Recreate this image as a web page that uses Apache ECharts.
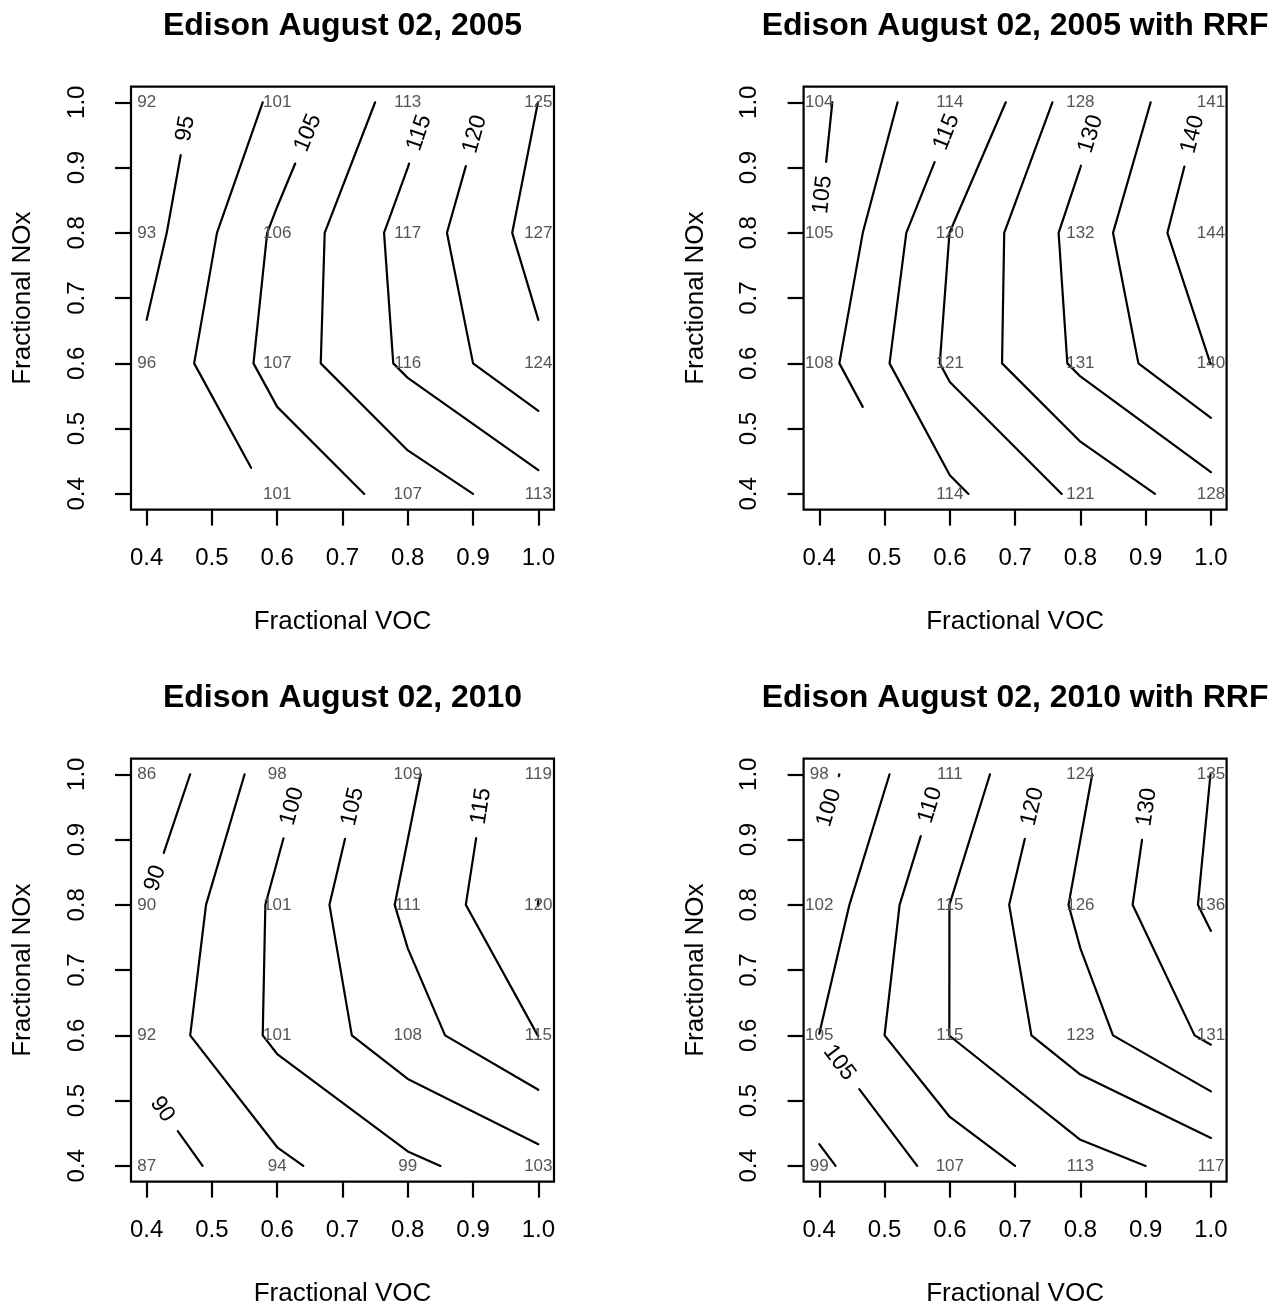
<!DOCTYPE html>
<html>
<head>
<meta charset="utf-8">
<title>Edison August 02 ozone isopleths</title>
<script src="https://cdn.jsdelivr.net/npm/echarts@6/dist/echarts.min.js"></script>
<style>
  html, body { margin: 0; padding: 0; background: #fff; }
  #chart { width: 1285px; height: 1308px; }
</style>
</head>
<body>
<div id="chart"></div>
<script>
// grid nodes: fractional VOC across, fractional NOx up
const vocNodes = [0.4, 0.6, 0.8, 1.0];
const noxNodes = [0.4, 0.6, 0.8, 1.0];

// axis ticks
const tickValues = [0.4, 0.5, 0.6, 0.7, 0.8, 0.9, 1.0];
const tickLabels = ['0.4', '0.5', '0.6', '0.7', '0.8', '0.9', '1.0'];

// ozone at each node, rows go from NOx 0.4 (bottom) to NOx 1.0 (top)
const ozone2005 = [
  [null, 101, 107, 113],
  [96, 107, 116, 124],
  [93, 106, 117, 127],
  [92, 101, 113, 125]
];
const ozone2005RRF = [
  [null, 114, 121, 128],
  [108, 121, 131, 140],
  [105, 120, 132, 144],
  [104, 114, 128, 141]
];
const ozone2010 = [
  [87, 94, 99, 103],
  [92, 101, 108, 115],
  [90, 101, 111, 120],
  [86, 98, 109, 119]
];
const ozone2010RRF = [
  [99, 107, 113, 117],
  [105, 115, 123, 131],
  [102, 115, 126, 136],
  [98, 111, 124, 135]
];

// contour pieces that carry an inline label (one entry per labelled piece)
const labelled2005 = [95, 105, 115, 120];
const labelled2005RRF = [105, 115, 130, 140];
const labelled2010 = [90, 90, 100, 105, 115];
const labelled2010RRF = [100, 105, 110, 120, 130];

const titles = [
  'Edison August 02, 2005',
  'Edison August 02, 2005 with RRF',
  'Edison August 02, 2010',
  'Edison August 02, 2010 with RRF'
];

const contourStep = 5;

const FONT = '"Liberation Sans", Arial, Helvetica, sans-serif';
const plotLeft = [131, 803.6];
const plotTop = [86.6, 758.6];
const plotSize = 423;
const axisMin = 0.376, axisMax = 1.024;
const pxPerUnit = plotSize / (axisMax - axisMin);
const labelPad = 14;
const labelFont = '23px ' + FONT;
const lineW = 2.2;

const measureCtx = document.createElement('canvas').getContext('2d');
function textWidth(str, font) {
  measureCtx.font = font;
  return measureCtx.measureText(str).width;
}

function polyLength(pts) {
  let s = 0;
  for (let k = 1; k < pts.length; k++) s += Math.hypot(pts[k][0] - pts[k - 1][0], pts[k][1] - pts[k - 1][1]);
  return s;
}

// contour lines the way R's contour() builds them: linear interpolation on cell edges,
// triangles where one corner is missing, levels hitting a node nudged by a tiny atom
function buildContours(z, labelled) {
  const vals = z.flat().filter(v => v != null);
  const zmin = Math.min(...vals), zmax = Math.max(...vals);
  const atom = 1e-3 * (zmax - zmin);
  const levels = [];
  for (let l = Math.ceil(zmin / contourStep) * contourStep; l <= zmax; l += contourStep) levels.push(l);

  const pieces = [];
  levels.forEach(lev => {
    const val = c => {
      const v = z[c[1]][c[0]];
      if (v == null) return null;
      return v === lev ? v + atom : v;
    };
    const cross = (a, b) => {
      let p = a, q = b;
      if (b[0] < a[0] || (b[0] === a[0] && b[1] < a[1])) { p = b; q = a; }
      const vp = val(p), vq = val(q);
      if ((vp - lev) * (vq - lev) >= 0) return null;
      const f = (lev - vp) / (vq - vp);
      return [
        vocNodes[p[0]] + f * (vocNodes[q[0]] - vocNodes[p[0]]),
        noxNodes[p[1]] + f * (noxNodes[q[1]] - noxNodes[p[1]])
      ];
    };

    const segs = [];
    for (let i = 0; i < vocNodes.length - 1; i++) {
      for (let j = 0; j < noxNodes.length - 1; j++) {
        const ll = [i, j], hl = [i + 1, j], lh = [i, j + 1], hh = [i + 1, j + 1];
        const ok = [ll, hl, lh, hh].filter(c => val(c) != null);
        let edges;
        if (ok.length === 4) edges = [[ll, hl], [ll, lh], [hl, hh], [lh, hh]];
        else if (ok.length === 3) edges = [[ok[0], ok[1]], [ok[0], ok[2]], [ok[1], ok[2]]];
        else continue;
        const pts = edges.map(e => cross(e[0], e[1])).filter(p => p);
        for (let k = 0; k + 1 < pts.length; k += 2) segs.push([pts[k], pts[k + 1]]);
      }
    }

    // join cell segments into polylines
    const key = p => p[0].toFixed(9) + ',' + p[1].toFixed(9);
    const used = segs.map(() => false);
    for (let s = 0; s < segs.length; s++) {
      if (used[s]) continue;
      used[s] = true;
      const line = [segs[s][0], segs[s][1]];
      let grown = true;
      while (grown) {
        grown = false;
        for (let t = 0; t < segs.length; t++) {
          if (used[t]) continue;
          const a = segs[t][0], b = segs[t][1];
          const head = key(line[0]), tail = key(line[line.length - 1]);
          if (key(a) === tail) line.push(b);
          else if (key(b) === tail) line.push(a);
          else if (key(a) === head) line.unshift(b);
          else if (key(b) === head) line.unshift(a);
          else continue;
          used[t] = true;
          grown = true;
        }
      }
      pieces.push({ level: lev, pts: line, labelled: false });
    }
  });

  // pick the labelled pieces (long enough to hold the label); the label sits at the start
  labelled.forEach(lev => {
    const need = (textWidth(String(lev), labelFont) + 2 * labelPad) / pxPerUnit;
    const cand = pieces.filter(p => p.level === lev && !p.labelled && polyLength(p.pts) > need)
      .sort((a, b) => a.pts.length - b.pts.length);
    if (!cand.length) return;
    const p = cand[0];
    p.labelled = true;
    const first = p.pts[0], last = p.pts[p.pts.length - 1];
    const fromLast = p.pts.length > 2 ? last[1] > first[1] : last[0] < first[0];
    if (fromLast) p.pts.reverse();
  });
  return pieces;
}

function pointAlong(pts, d) {
  let acc = 0;
  for (let k = 1; k < pts.length; k++) {
    const dx = pts[k][0] - pts[k - 1][0], dy = pts[k][1] - pts[k - 1][1];
    const len = Math.hypot(dx, dy);
    if (acc + len >= d && len > 0) {
      const t = (d - acc) / len;
      return { pt: [pts[k - 1][0] + t * dx, pts[k - 1][1] + t * dy], k: k, dir: [dx, dy] };
    }
    acc += len;
  }
  return null;
}

function contourRenderer(pieces) {
  return function (params, api) {
    const piece = pieces[api.value(2)];
    let pts = piece.pts.map(p => api.coord(p));
    const children = [];
    if (piece.labelled) {
      const text = String(piece.level);
      const gap = textWidth(text, labelFont) + 2 * labelPad;
      const mid = pointAlong(pts, gap / 2);
      const cut = pointAlong(pts, gap);
      if (mid) {
        let a = Math.atan2(mid.dir[1], mid.dir[0]);
        if (a > Math.PI / 2) a -= Math.PI;
        if (a <= -Math.PI / 2) a += Math.PI;
        children.push({
          type: 'text',
          x: mid.pt[0], y: mid.pt[1], rotation: -a,
          style: { text: text, font: labelFont, fill: '#000', textAlign: 'center', textVerticalAlign: 'middle' }
        });
      }
      if (cut) pts = [cut.pt].concat(pts.slice(cut.k));
    }
    if (pts.length > 1) {
      children.push({
        type: 'polyline',
        shape: { points: pts },
        style: { stroke: '#000', lineWidth: lineW, fill: null, lineCap: 'round', lineJoin: 'round' }
      });
    }
    return { type: 'group', children: children };
  };
}

function nodeRenderer(params, api) {
  const c = api.coord([api.value(0), api.value(1)]);
  return {
    type: 'text', x: c[0], y: c[1],
    style: { text: String(api.value(2)), font: '17px ' + FONT, fill: '#555', textAlign: 'center', textVerticalAlign: 'middle' }
  };
}

const tickFormatter = v => {
  let best = 0;
  tickValues.forEach((t, k) => { if (Math.abs(t - v) < Math.abs(tickValues[best] - v)) best = k; });
  return tickLabels[best];
};

const panels = [
  { z: ozone2005, labelled: labelled2005 },
  { z: ozone2005RRF, labelled: labelled2005RRF },
  { z: ozone2010, labelled: labelled2010 },
  { z: ozone2010RRF, labelled: labelled2010RRF }
];

const grids = [], xAxes = [], yAxes = [], series = [], graphics = [];
panels.forEach((panel, i) => {
  const left = plotLeft[i % 2], top = plotTop[Math.floor(i / 2)];
  grids.push({ left: left, top: top, width: plotSize, height: plotSize, show: true, borderColor: '#000', borderWidth: lineW });
  xAxes.push({
    gridIndex: i, type: 'value', min: axisMin, max: axisMax,
    name: 'Fractional VOC', nameLocation: 'middle', nameGap: 99,
    nameTextStyle: { fontSize: 26, color: '#000', fontFamily: FONT },
    axisLine: { show: false }, splitLine: { show: false },
    axisTick: { show: true, customValues: tickValues, length: 16, lineStyle: { color: '#000', width: lineW } },
    axisLabel: { customValues: tickValues, formatter: tickFormatter, fontSize: 24, color: '#000', fontFamily: FONT, margin: 37 }
  });
  yAxes.push({
    gridIndex: i, type: 'value', min: axisMin, max: axisMax,
    name: 'Fractional NOx', nameLocation: 'middle', nameGap: 95,
    nameTextStyle: { fontSize: 26, color: '#000', fontFamily: FONT },
    axisLine: { show: false }, splitLine: { show: false },
    axisTick: { show: true, customValues: tickValues, length: 16, lineStyle: { color: '#000', width: lineW } },
    axisLabel: { customValues: tickValues, formatter: tickFormatter, rotate: 90, fontSize: 24, color: '#000', fontFamily: FONT, margin: 42 }
  });

  const pieces = buildContours(panel.z, panel.labelled);
  series.push({
    type: 'custom', xAxisIndex: i, yAxisIndex: i, coordinateSystem: 'cartesian2d',
    renderItem: contourRenderer(pieces),
    encode: { x: 0, y: 1 },
    data: pieces.map((p, k) => [p.pts[0][0], p.pts[0][1], k])
  });

  const nodes = [];
  panel.z.forEach((row, j) => row.forEach((v, k) => {
    if (v != null) nodes.push([vocNodes[k], noxNodes[j], v]);
  }));
  series.push({
    type: 'custom', xAxisIndex: i, yAxisIndex: i, coordinateSystem: 'cartesian2d',
    renderItem: nodeRenderer, encode: { x: 0, y: 1 }, data: nodes
  });

  graphics.push({
    type: 'text', x: left + plotSize / 2, y: top - 60,
    style: { text: titles[i], font: 'bold 32px ' + FONT, fill: '#000', textAlign: 'center', textVerticalAlign: 'middle' }
  });
});

const chart = echarts.init(document.getElementById('chart'), null, { renderer: 'canvas' });
chart.setOption({
  animation: false,
  backgroundColor: '#fff',
  grid: grids,
  xAxis: xAxes,
  yAxis: yAxes,
  graphic: graphics,
  series: series
});
</script>
</body>
</html>
